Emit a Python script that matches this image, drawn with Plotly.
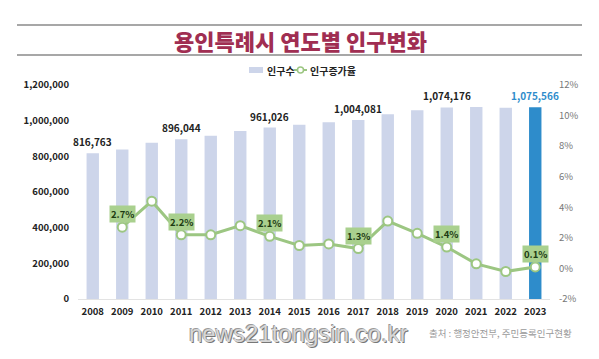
import plotly.graph_objects as go

years = [str(y) for y in range(2008, 2024)]
population = [816763, 839000, 876000, 896044, 916000, 942000, 961026, 977000,
              991000, 1004081, 1036000, 1058000, 1074176, 1077000, 1073000, 1075566]
growth = [None, 2.7, 4.4, 2.2, 2.2, 2.8, 2.1, 1.5, 1.6, 1.3, 3.1, 2.3, 1.4, 0.3, -0.2, 0.1]

pop_label_years = ["2008", "2011", "2014", "2017", "2020", "2023"]
growth_label_years = ["2009", "2011", "2014", "2017", "2020", "2023"]

left_ticks = [0, 200000, 400000, 600000, 800000, 1000000, 1200000]
right_ticks = [-2, 0, 2, 4, 6, 8, 10, 12]

title_text = "용인특례시 연도별 인구변화"
source_text = "출처 : 행정안전부, 주민등록인구현황"
watermark = "news21tongsin.co.kr"
legend_names = ["인구수", "인구증가율"]

FONT = "Noto Sans CJK KR"
BAR = "#cdd5ea"
HIGHLIGHT = "#2e8ccb"
GREEN = "#9cc682"
BOXGREEN = "#a9d08e"

# page has an 8px body margin; figure coordinates = page coordinates - 8
OFF = 8
W, H = 599 - OFF, 359 - OFF
plot_l, plot_r, plot_t, plot_b = 78, 550, 85, 299   # page pixels
ml, mr, mt, mb = plot_l - OFF, W - (plot_r - OFF), plot_t - OFF, H - (plot_b - OFF)
pw, ph = W - ml - mr, H - mt - mb


def px_to_paper(px, py):
    fx, fy = px - OFF, py - OFF
    return (fx - ml) / pw, (H - mb - fy) / ph


bar_colors = [HIGHLIGHT if y == "2023" else BAR for y in years]

fig = go.Figure()
fig.add_trace(go.Bar(
    x=years, y=population, name=legend_names[0], marker=dict(color=bar_colors, line=dict(width=0)),
    width=0.42, hoverinfo="skip", showlegend=False
))
fig.add_trace(go.Scatter(
    x=years, y=growth, name=legend_names[1], yaxis="y2", mode="lines+markers",
    line=dict(color=GREEN, width=3),
    marker=dict(size=9, color="white", line=dict(color=GREEN, width=2)),
    hoverinfo="skip", showlegend=False
))

anns = []
for i, (y, v) in enumerate(zip(years, population)):
    if y in pop_label_years:
        anns.append(dict(
            x=i, y=v, xref="x", yref="y", text=f"{v:,}", showarrow=False,
            yanchor="bottom", yshift=2,
            font=dict(family=FONT, size=10, color=HIGHLIGHT if y == "2023" else "#222222", weight=700)
        ))
for i, (y, g) in enumerate(zip(years, growth)):
    if y in growth_label_years:
        anns.append(dict(
            x=i, y=g, xref="x", yref="y2", text=f"{g}%", showarrow=False,
            yanchor="middle", yshift=13, bgcolor=BOXGREEN, borderpad=1,
            font=dict(family=FONT, size=9.5, color="#1d3a12", weight=700)
        ))

tx, ty = px_to_paper(300, 40)
anns.append(dict(x=tx, y=ty, xref="paper", yref="paper", text=title_text, showarrow=False,
                 xanchor="center", yanchor="middle",
                 font=dict(family=FONT, size=22, color="#a02e52", weight=900)))
wx, wy = px_to_paper(298, 333)
anns.append(dict(x=wx, y=wy, xref="paper", yref="paper", text=watermark, showarrow=False,
                 xanchor="center", yanchor="middle",
                 font=dict(family="Liberation Sans, sans-serif",
                           size=24, color="#d6d6d6",
                           shadow="1px 1px 0px #777777, -1px -1px 0px #9a9a9a")))
sx, sy = px_to_paper(500, 333)
anns.append(dict(x=sx, y=sy, xref="paper", yref="paper", text=source_text, showarrow=False,
                 xanchor="center", yanchor="middle",
                 font=dict(family=FONT, size=9.5, color="#9a9a9a")))

# manual legend
l1x, l1y = px_to_paper(265, 70)
anns.append(dict(x=l1x, y=l1y, xref="paper", yref="paper", text=legend_names[0], showarrow=False,
                 xanchor="left", yanchor="middle",
                 font=dict(family=FONT, size=10, color="#222222", weight=700)))
l2x, l2y = px_to_paper(308, 70)
anns.append(dict(x=l2x, y=l2y, xref="paper", yref="paper", text=legend_names[1], showarrow=False,
                 xanchor="left", yanchor="middle",
                 font=dict(family=FONT, size=10, color="#222222", weight=700)))

shapes = []
for ly in (25, 55):
    x0, yy = px_to_paper(17, ly)
    x1, _ = px_to_paper(582, ly)
    shapes.append(dict(type="line", xref="paper", yref="paper", x0=x0, x1=x1, y0=yy, y1=yy,
                       line=dict(color="#8a8a8a", width=1.5)))
# legend symbols
rx0, ry0 = px_to_paper(249, 73)
rx1, ry1 = px_to_paper(263, 67)
shapes.append(dict(type="rect", xref="paper", yref="paper", x0=rx0, x1=rx1, y0=ry0, y1=ry1,
                   fillcolor=BAR, line=dict(width=0)))
gx0, gy = px_to_paper(294, 70)
gx1, _ = px_to_paper(307, 70)
shapes.append(dict(type="line", xref="paper", yref="paper", x0=gx0, x1=gx1, y0=gy, y1=gy,
                   line=dict(color=GREEN, width=2)))
cx0, cy0 = px_to_paper(297.5, 73)
cx1, cy1 = px_to_paper(303.5, 67)
shapes.append(dict(type="circle", xref="paper", yref="paper", x0=cx0, x1=cx1, y0=cy0, y1=cy1,
                   fillcolor="white", line=dict(color=GREEN, width=1.5)))

fig.update_layout(
    width=W, height=H,
    margin=dict(l=ml, r=mr, t=mt, b=mb, autoexpand=False),
    paper_bgcolor="white", plot_bgcolor="white",
    annotations=anns, shapes=shapes,
    showlegend=False,
    xaxis=dict(type="category", tickfont=dict(family=FONT, size=9.5, color="#222222", weight=700),
               showgrid=False, showline=True, linecolor="#e3e3e3", linewidth=1, ticks="",
               range=[-0.5, 15.5], ticklabelstandoff=4),
    yaxis=dict(range=[0, 1200000], tickvals=left_ticks,
               ticktext=[f"{v:,}" for v in left_ticks],
               tickfont=dict(family=FONT, size=9.5, color="#222222", weight=700),
               showgrid=False, zeroline=False, showline=False, ticks="", ticklabelstandoff=8),
    yaxis2=dict(range=[-2, 12], tickvals=right_ticks,
                ticktext=[f"{v}%" for v in right_ticks], overlaying="y", side="right",
                tickfont=dict(family=FONT, size=9.5, color="#777777"),
                showgrid=False, zeroline=False, showline=False, ticks="", ticklabelstandoff=8),
)

fig.write_html("out.html")
